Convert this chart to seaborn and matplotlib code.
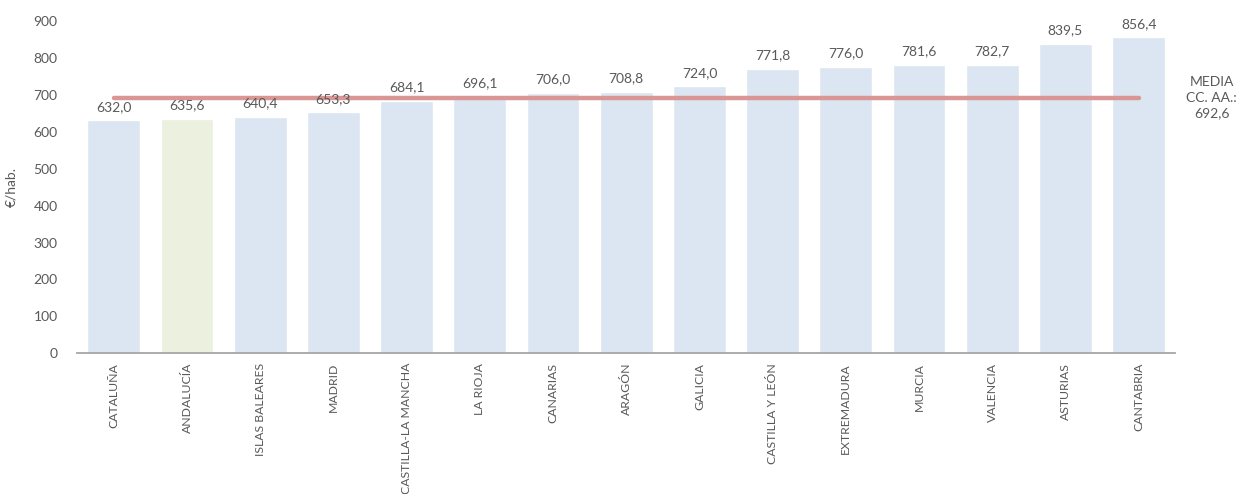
import matplotlib.pyplot as plt
import seaborn as sns
import pandas as pd

regiones = ['CATALUÑA', 'ANDALUCÍA', 'ISLAS BALEARES', 'MADRID', 'CASTILLA-LA MANCHA',
            'LA RIOJA', 'CANARIAS', 'ARAGÓN', 'GALICIA', 'CASTILLA Y LEÓN',
            'EXTREMADURA', 'MURCIA', 'VALENCIA', 'ASTURIAS', 'CANTABRIA']
gasto = [632.0, 635.6, 640.4, 653.3, 684.1, 696.1, 706.0, 708.8, 724.0, 771.8,
         776.0, 781.6, 782.7, 839.5, 856.4]
media = 692.6
destacada = 'ANDALUCÍA'

sns.set_theme(style="white")
plt.rcParams['font.family'] = ['Lato', 'DejaVu Sans']

df = pd.DataFrame({'region': regiones, 'gasto': gasto})
colores = {r: ('#ebf0df' if r == destacada else '#dce6f2') for r in regiones}

fig, ax = plt.subplots(figsize=(12.45, 4.94), dpi=100)
fig.subplots_adjust(left=0.062, right=0.944, bottom=0.285, top=0.957)

sns.barplot(data=df, x='region', y='gasto', hue='region', palette=colores,
            width=0.72, legend=False, saturation=1, ax=ax)

# linea de la media
ax.plot([0, len(regiones) - 1], [media, media], color='#d99694', lw=3.2,
        solid_capstyle='round', zorder=3)

txt = '#595959'
fs = 10
for i, v in enumerate(gasto):
    ax.text(i, v + 20, f'{v:.1f}'.replace('.', ','), ha='center', va='bottom',
            fontsize=fs, color=txt)

ax.text(1.033, media, 'MEDIA\nCC. AA.:\n' + f'{media:.1f}'.replace('.', ','),
        transform=ax.get_yaxis_transform(), ha='center', va='center',
        fontsize=fs, color=txt, linespacing=1.35)

ax.set_xlim(-0.5, len(regiones) - 0.5)
ax.set_ylim(0, 900)
ax.set_yticks(range(0, 901, 100))
ax.set_xlabel('')
ax.set_ylabel('€/hab.', fontsize=fs, color=txt, labelpad=12)
ax.tick_params(axis='x', rotation=90, labelsize=8.8, colors=txt, pad=7, length=0)
ax.tick_params(axis='y', labelsize=fs, colors=txt, length=0, pad=14)

sns.despine(ax=ax, left=True)
ax.spines['bottom'].set_color('#a6a6a6')
ax.spines['bottom'].set_linewidth(1.3)

plt.savefig('out.png', dpi=100)
